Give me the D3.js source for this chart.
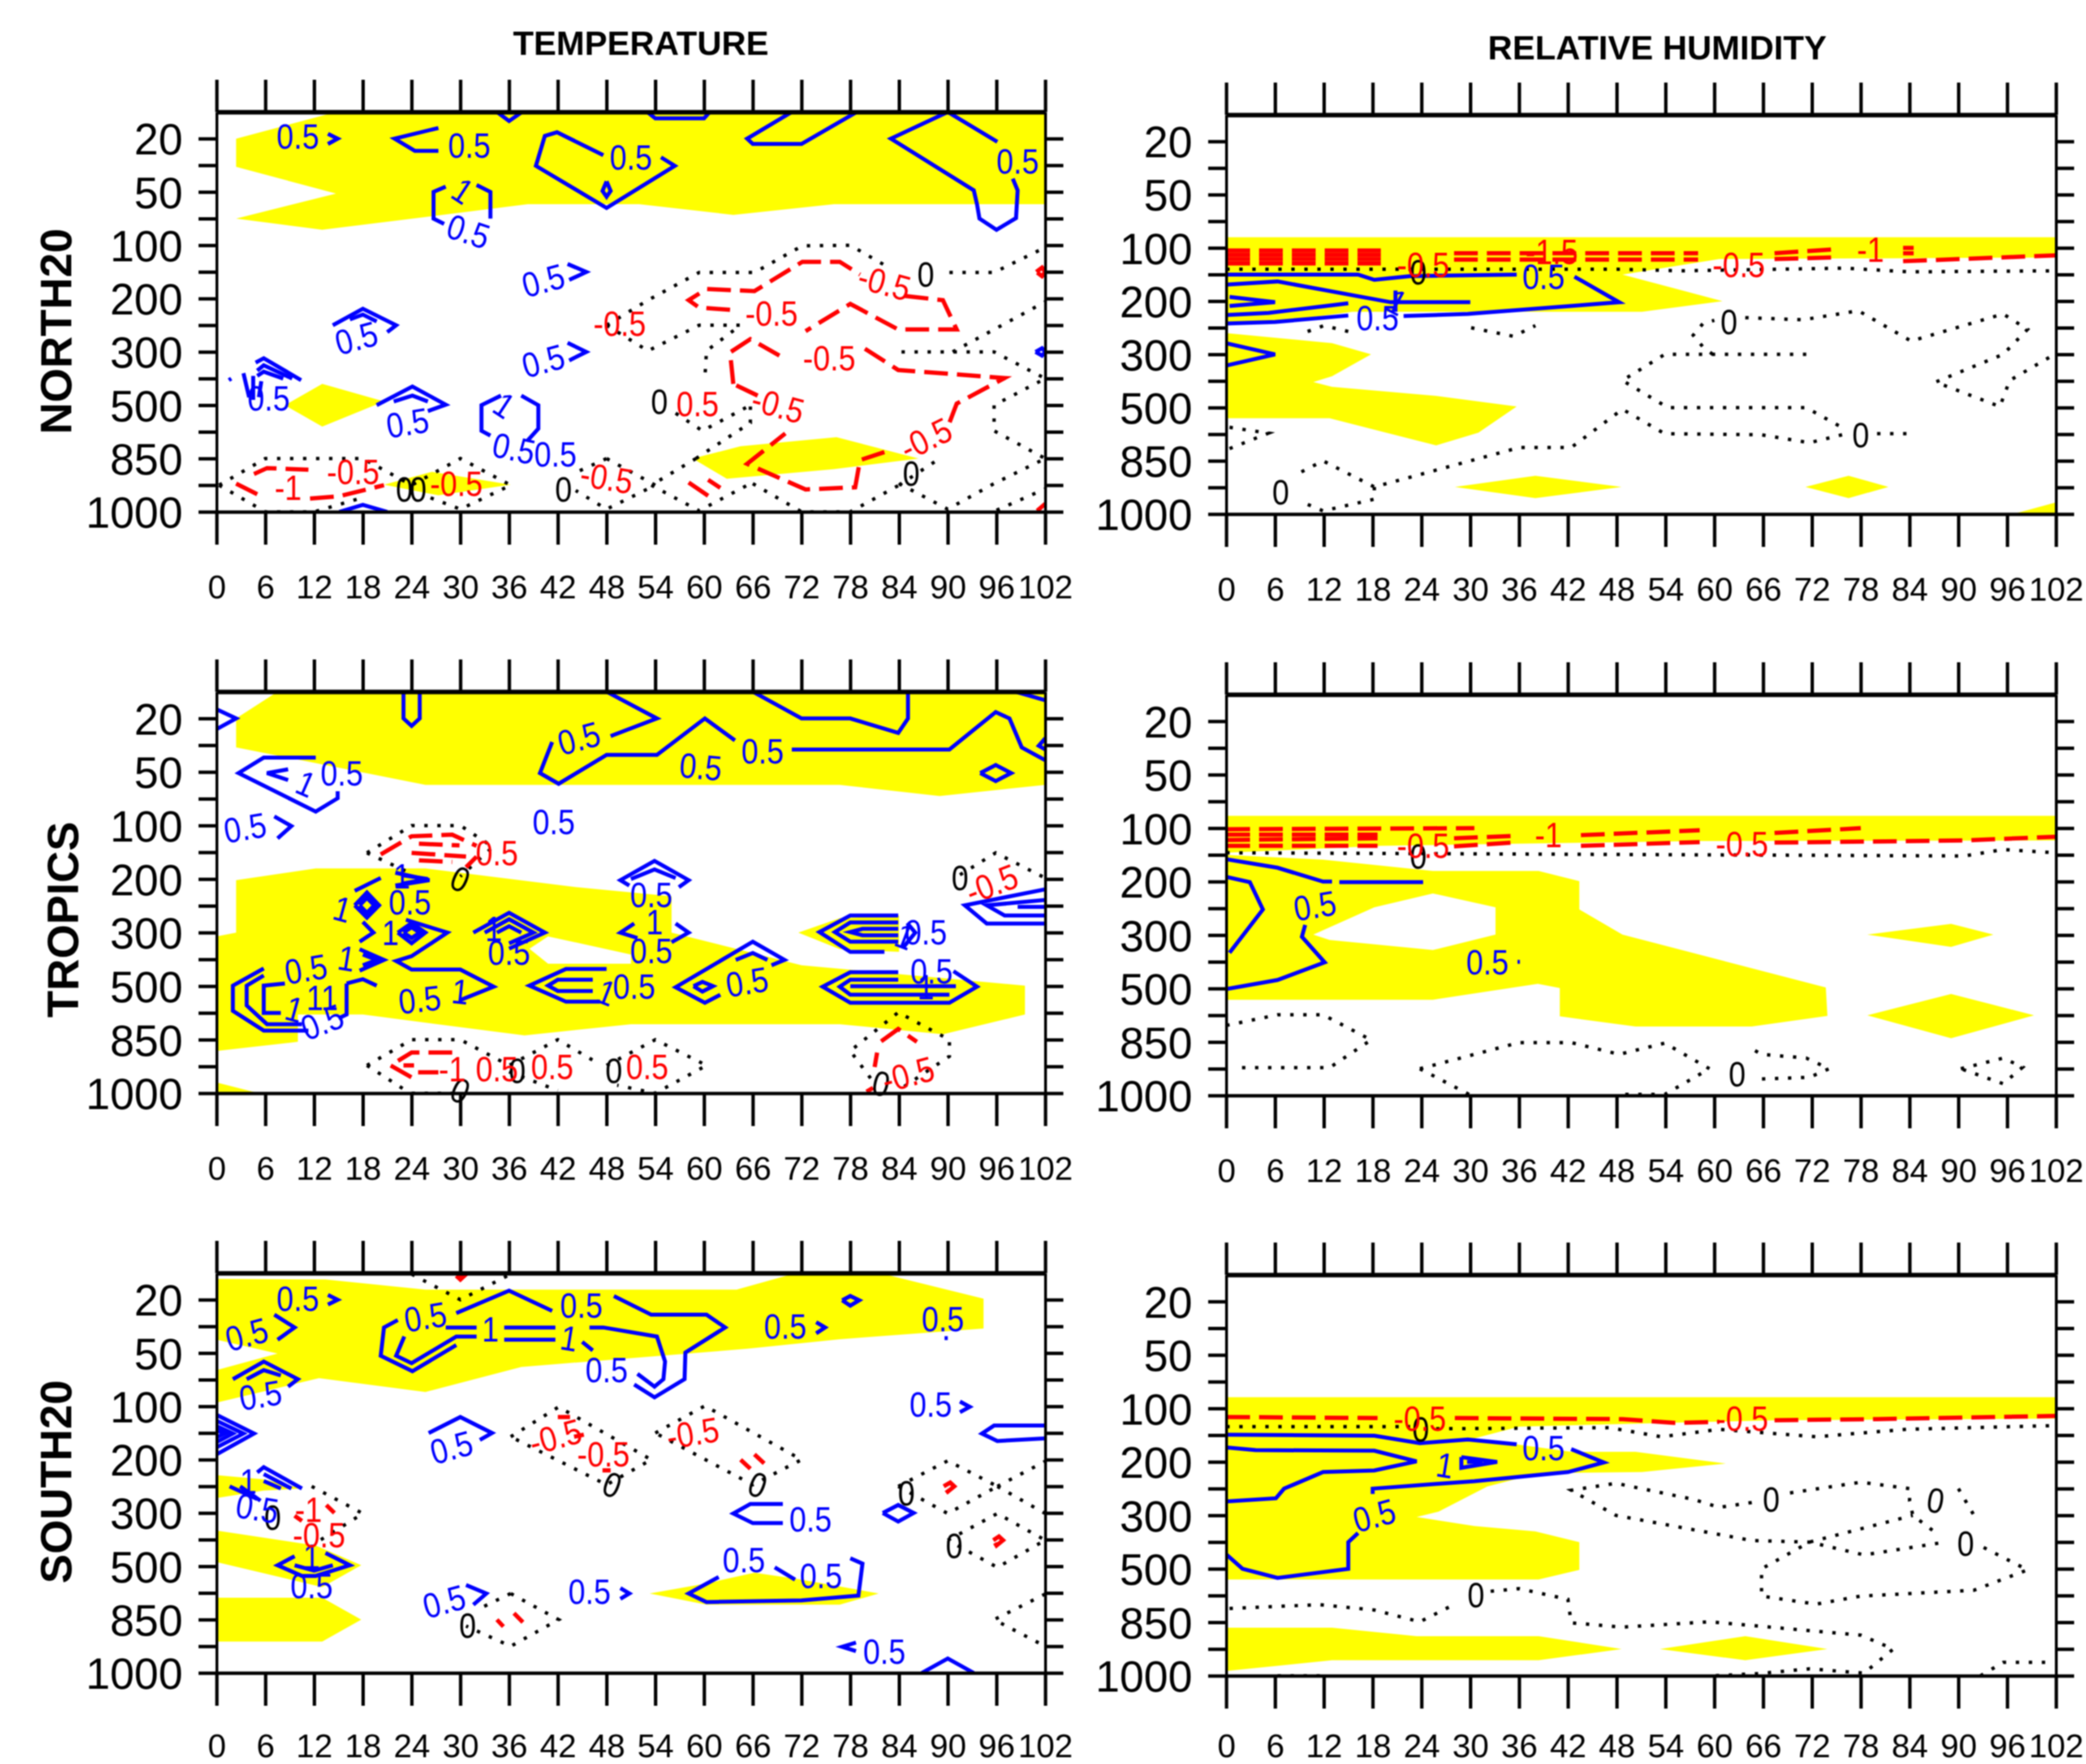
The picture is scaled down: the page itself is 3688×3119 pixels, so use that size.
<!DOCTYPE html>
<html>
<head>
<meta charset="utf-8">
<script src="https://cdn.jsdelivr.net/npm/d3@7"></script>
<style>
  body { margin: 0; background: #fff; }
  text { font-family: "Liberation Sans", Arial, sans-serif; }
</style>
</head>
<body>
<div id="chart"></div>
<script>
// forecast hour on x, pressure level index on y (0 = 20 hPa ... 7 = 1000 hPa)
const hours = d3.range(0, 103, 6);
const levels = [20, 50, 100, 200, 300, 500, 850, 1000];
const columnTitles = ['TEMPERATURE', 'RELATIVE HUMIDITY'];
const rowTitles = ['NORTH20', 'TROPICS', 'SOUTH20'];

// ---- temperature, north
const tnYellow = [
  [[14.7,-.5],[102,-.5],[102,1.23],[76,1.23],[63.6,1.43],[52,1.23],[38.3,1.23],[13,1.71],[2.4,1.5],[14.7,1.03],[2.4,.53],[2.4,0]],
  [[8.4,5],[13,4.6],[20.6,4.93],[13,5.4]],
  [[20.6,6.49],[26.5,6.25],[36.2,6.49],[27.3,6.69]],
  [[58.6,6],[64.5,5.77],[76.3,5.6],[86.4,6],[76,6.2],[62.8,6.38]]
];
const tnBlue = [
  [[34.5,-.5],[36,-.33],[37.6,-.5]],
  [[53,-.5],[54,-.38],[60,-.38],[60.7,-.5]],
  [[70.8,-.5],[65.3,0],[66,.1],[72,.1],[78.8,-.5]],
  [[96.1,.06],[90,-.5],[83,0],[93.2,.97],[93.6,1.23],[93.9,1.5],[96,1.71],[98.4,1.49],[98.6,.97],[98,.75]],
  [[27.3,-.2],[21.9,0],[24.4,.23],[27.3,.23]],
  [[47.6,.31],[41.9,-.12],[40.4,-.05],[39.3,.51],[48,1.3],[56.4,.51],[54.7,.35]],
  [[48,.8],[47.5,.98],[48,1.09],[48.5,.98],[48,.8]],
  [[28.2,.9],[26.7,1],[26.7,1.5],[28,1.6]],
  [[32,.87],[33.7,1],[33.7,1.5]],
  [[13.7,-.09],[14.9,0],[13.7,.1]],
  [[43.2,2.35],[45.5,2.5],[43.4,2.65]],
  [[43.2,3.83],[45.5,4],[43.4,4.16]],
  [[14.3,3.5],[18,3.19],[22.1,3.5],[21,3.63]],
  [[16.4,3.39],[18,3.3],[19.7,3.43]],
  [[10.4,4.53],[5.8,4.12],[4.8,4.2]],
  [[9.3,4.5],[5.8,4.25],[5,4.35]],
  [[8.2,4.5],[5.8,4.37],[5,4.45]],
  [[3.3,4.4],[4,4.85]],
  [[4.5,4.45],[4.5,4.9]],
  [[5.5,4.55],[5.2,4.85]],
  [[1.5,4.53],[1.8,4.5]],
  [[19.7,5],[24.1,4.65],[28.2,4.99],[26,5.11]],
  [[21.8,4.93],[24.1,4.82],[26,4.93]],
  [[35,4.82],[32.6,5],[32.6,5.48],[33.7,5.57]],
  [[37.5,4.82],[39.6,5],[39.6,5.44],[38.3,5.66]],
  [[15.1,7],[18,6.87],[21,7]],
  [[100.8,4],[101.6,3.93],[102,4],[101.6,4.07],[100.8,4]]
];
const tnRed = [
  [[63.2,3.21],[59.4,3.17],[58.1,3.03],[60.3,2.82],[66.2,2.86],[72.1,2.31],[76.7,2.31],[79.2,2.55]],
  [[84.7,2.95],[89.4,3.03],[91.1,3.58],[83.9,3.58],[78,3.1],[72.5,3.61]],
  [[63.6,4.6],[63.2,4.01],[65.7,3.76],[69.5,4.09]],
  [[79.8,3.94],[83.9,4.34],[97,4.49],[91.1,4.97],[90.2,5.33]],
  [[82.2,5.88],[79.2,6.03],[78.6,6.54],[72.5,6.58],[65.3,6.1],[70,5.53]],
  [[66.6,4.82],[63.6,4.6]],
  [[2.4,6.47],[5,6.67]],
  [[4.6,6.29],[6.2,6.18],[11.3,6.21]],
  [[11.5,6.75],[15,6.71],[20.6,6.5]],
  [[58.1,6.45],[60.5,6.7]],
  [[60.5,6.4],[62,6.55]],
  [[100.9,2.5],[101.6,2.42],[102,2.5],[101.6,2.58],[100.9,2.5]],
  [[101,6.98],[102,6.85]]
];
const tnZero = [
  [[48,3.5],[53.1,3.03],[59.4,2.51],[66.2,2.51],[72.1,2.01],[78,2],[82.2,2.37]],
  [[90.2,2.51],[95.7,2.51],[101.6,2.07]],
  [[48,3.5],[53.1,3.98],[59.4,3.5],[64.5,3.5],[60.3,3.98],[60.1,4.49]],
  [[56.5,5.15],[59.8,5.48],[65.7,5]],
  [[90.6,4],[102,3.06]],
  [[84.3,4],[95.7,4],[102,4.5],[95.7,5],[95.7,5.48],[102,6]],
  [[84,6.47],[90,6.95],[95.7,6.47],[102,6]],
  [[96,6.97],[102,6.57]],
  [[84,6.5],[89,6]],
  [[66,6.47],[72,7],[78,7],[84,6.5]],
  [[59,6],[53.5,6.5],[59.4,6.98],[65.7,6.47]],
  [[59,6],[65.7,5.33],[65.7,5]],
  [[48,6],[54,6.5],[48,6.95],[44.2,6.6]],
  [[48,6],[43.8,6.29]],
  [[.3,6.5],[6,6],[18,6],[24,6.5],[30,6],[36.2,6.5],[30,6.95],[25.7,6.7]],
  [[.3,6.5],[6,7],[12,7],[17.6,6.75]]
];
const tnBlueLabels = [
  [10,-.04,'0.5'],[31.1,.13,'0.5'],[51,.35,'0.5'],[98.6,.42,'0.5'],
  [31,1.74,'0.5',6,.3],[30.3,.98,'1',6,.6],[40.2,2.66,'0.5',6,-.25],[40.2,4.17,'0.5',6,-.25],
  [17.2,3.74,'0.5',6,-.25],[6.4,4.87,'0.5'],[23.5,5.33,'0.5',6,-.15],[35.4,5,'1',6,.6],
  [36.6,5.81,'0.5',6,.2],[41.7,5.92,'0.5']
];
const tnRedLabels = [
  [68.3,3.28,'-0.5'],[82.2,2.7,'-0.5',6,.25],[75.4,4.12,'-0.5'],[87.3,5.63,'-0.5',6,-.45],
  [69.1,5,'-0.5',6,.25],[49.6,3.47,'-0.5'],[59.2,4.97,'0.5'],[8.8,6.54,'-1'],[16.8,6.25,'-0.5'],
  [29.5,6.47,'-0.5'],[48,6.36,'-0.5',6,.15]
];
const tnZeroLabels = [
  [87.3,2.55,'0'],[54.5,4.93,'0'],[23.1,6.58,'0'],[24.8,6.58,'0'],[42.7,6.58,'0'],[85.5,6.28,'0']
];

// ---- relative humidity, north
const rnYellow = [
  [[0,1.8],[102,1.8],[102,2.18],[60.6,2.21],[48.7,2.5],[61,3],[51.1,3.2],[15.5,3.2],[7.5,3.36],[0,3.46]],
  [[0,3.6],[13,3.79],[17.8,4],[13,4.41],[10.7,4.52],[13,4.61],[25.8,4.78],[35.7,4.98],[31,5.47],[25.8,5.71],[12.7,5.2],[0,5.2]],
  [[28.1,6.49],[38,6.28],[48.6,6.49],[38,6.7]],
  [[71.2,6.49],[76.5,6.28],[81.4,6.49],[76.5,6.7]],
  [[96.7,7],[102,6.78],[102,7]]
];
const rnBlue = [
  [[0,2.5],[16.2,2.5],[18.2,2.6],[22.6,2.53],[35.7,2.5]],
  [[42.8,2.54],[48.3,3.02],[29.7,3.24],[21.8,3.28]],
  [[15,3.27],[6,3.39],[0,3.42]],
  [[0,2.69],[6.3,2.63],[20.2,3.02],[30,3.02]],
  [[.4,2.92],[6,3.02],[.4,3.09]],
  [[0,3.26],[5.2,3.22],[15,3.04]],
  [[20.8,2.8],[20.8,3.2]],
  [[0,3.79],[6,4],[0,4.21]]
];
const rnRed = [
  [[0,2.05],[19,2.05]],[[0,2.13],[19,2.13]],[[0,2.21],[19,2.21]],[[0,2.29],[19,2.29]],
  [[28,2.1],[58,2.1]],[[28,2.22],[58,2.22]],
  [[67.4,2.1],[74.5,2.03]],[[67.4,2.21],[74.5,2.18]],
  [[83.2,2.25],[102,2.14]],[[83.2,2],[84.5,2]],[[83.2,2.1],[84.5,2.1]]
];
const rnZero = [
  [[0,2.4],[48,2.4],[56,2.43],[60,2.42],[76,2.38],[84,2.45],[102,2.43]],
  [[10,3.57],[12,3.46],[15,3.57]],
  [[30.1,3.5],[35.3,3.66],[38,3.46]],
  [[59.8,4],[58.6,3.86],[57.4,3.64],[58.6,3.42],[60,3.36]],
  [[63.8,3.31],[70.9,3.35],[77.7,3.18],[84.2,3.75],[95.5,3.24],[98.5,3.53],[95.5,4],[87.2,4.52],[95.1,4.98],[96.3,4.49],[101.8,4]],
  [[71.3,4],[53.9,4],[48.7,4.49],[54.3,5],[71.3,5],[76,5.4]],
  [[80,5.49],[84,5.49]],
  [[75.7,5.51],[71.7,5.66],[65.8,5.51],[53.9,5.49],[48.7,5.03],[42.4,5.75],[36,5.75],[18.2,6.49],[11.9,6],[8.3,6.28]],
  [[18.2,6.49],[18.2,6.72],[11.9,6.94],[9.1,6.76]],
  [[.4,5.37],[5.2,5.48],[.4,5.77]]
];
const rnBlueLabels = [[39,2.54,'0.5'],[18.6,3.31,'0.5'],[21,3.02,'1',6,.5]];
const rnRedLabels = [[24.2,2.32,'-0.5'],[40,2.07,'-1.5'],[63,2.32,'-0.5'],[79.2,2.03,'-1']];
const rnZeroLabels = [[23.6,2.45,'0'],[61.8,3.39,'0'],[78,5.51,'0'],[6.7,6.59,'0']];

// ---- temperature, tropics
const ttYellow = [
  [[7.5,-.5],[102,-.5],[102,1.24],[89,1.45],[76.7,1.24],[25.7,1.24],[2.4,.54],[2.4,0]],
  [[2.4,3.02],[12.2,2.8],[25.7,2.8],[44.2,3.15],[56,3.32],[56,4],[72,4.61],[99.5,4.99],[99.5,5.53],[89.4,5.9],[76.7,5.71],[51,5.71],[37.9,5.92],[18,5.53],[10,5.53],[10,6.04],[0,6.21],[0,4.07],[2.4,4]],
  [[71.6,4],[76.7,3.73],[84,3.68],[84,4.36],[76.7,4.31]],
  [[0,6.8],[5.2,7],[0,7]]
];
const ttHoles = [
  [[40.8,4.07],[51,4.41],[51,4.58],[40.8,4.58],[38.5,4.3]]
];
const ttBlue = [
  [[0,-.17],[2.4,0],[0,.2]],
  [[23,-.5],[23,0],[24,.14],[25,0],[25,-.5]],
  [[41.9,-.5],[48,-.5],[54.2,0],[48.5,.33]],
  [[41.3,.44],[39.8,1.02],[42.1,1.22],[48,.68],[54.2,.68],[60.1,0],[63.8,.41]],
  [[66,-.5],[72,0],[78,0],[83.9,.27],[85.1,0],[85.1,-.5]],
  [[70.8,.58],[90.2,.58],[95.9,-.12],[97.6,0],[99.1,.54],[102,.78]],
  [[98.3,-.5],[102,-.34]],
  [[102,.37],[101.2,.51],[102,.58]],
  [[94,1.02],[95.9,.87],[97.8,1.02],[95.9,1.17],[94,1.02]],
  [[12.2,.73],[5.8,.73],[2.7,1.02],[12.2,1.74],[14.9,1.49],[14.9,1.36]],
  [[8.8,.95],[6.2,1.02],[8.8,1.15]],
  [[7.1,1.83],[9.2,2.01],[7.5,2.24]],
  [[22,2.88],[26.2,3.02],[22,3.12]],
  [[23,2.93],[26,3],[23,3.08]],
  [[20.2,2.98],[17,3.22]],
  [[17,3.49],[18.5,3.25],[20,3.49],[18.5,3.72],[17,3.49]],
  [[17.6,3.49],[18.5,3.35],[19.4,3.49],[18.5,3.63],[17.6,3.49]],
  [[18,3.8],[19.3,4],[17.6,4.17]],
  [[23.3,3.76],[28.4,4],[24,4.44],[22.1,4.53],[24,4.69],[30,4.69],[34.1,5.01],[30,5.26]],
  [[22.3,4],[24,3.82],[25.7,4],[24,4.2],[22.3,4]],
  [[23,4],[24,3.9],[25,4],[24,4.1],[23,4]],
  [[31.6,4],[36,3.63],[40.4,4],[36,4.3]],
  [[33,4],[36,3.75],[39,4],[36,4.2]],
  [[34.5,4],[36,3.88],[37.5,4]],
  [[17.6,4.31],[20.6,4.51],[17.6,4.71]],
  [[18,4.41],[19.7,4.51],[18,4.61]],
  [[16,4.95],[18,4.87],[19.7,4.99]],
  [[16,4.95],[16,5.53],[15,5.6]],
  [[5.8,4.67],[2,4.99],[2,5.46],[5.8,5.83],[11.3,5.83]],
  [[5.8,4.8],[3.7,4.99],[3.7,5.36],[6.2,5.71],[10.5,5.71]],
  [[8.4,4.95],[5.8,4.99],[5.8,5.5],[7.9,5.5]],
  [[48,4.68],[43,4.68],[38.5,4.99],[43,5.29],[47.2,5.29]],
  [[46.3,4.88],[42,4.88],[40.8,4.99],[42,5.09],[46.3,5.09]],
  [[68.3,4.61],[69.9,4.51],[66,4.17],[56.5,5.02],[60.1,5.31],[62,5.16]],
  [[58.7,5],[59.8,4.92],[61.1,5],[59.8,5.1],[58.7,5]],
  [[63.9,4.51],[66,4.38],[67.8,4.51]],
  [[50.8,3.12],[49.7,3.02],[53.9,2.66],[58.1,3.02],[56.9,3.15]],
  [[51,3],[53.9,2.82],[56.5,2.98]],
  [[51.4,3.83],[49.7,4],[51.8,4.1]],
  [[56.5,3.83],[58.1,4],[56,4.18]],
  [[83.9,3.68],[78,3.68],[74.2,3.99],[78,4.36],[82.2,4.36]],
  [[83.9,3.81],[78,3.81],[76.1,3.99],[78,4.17],[83.9,4.17]],
  [[83.9,3.93],[79.5,3.93],[78,3.99],[79.5,4.05],[83.9,4.05]],
  [[85,3.82],[86,4],[84.5,4.28]],
  [[83.9,4.74],[78,4.74],[74.6,5.01],[78,5.31],[90.2,5.31],[93.6,5.01],[90.7,4.72]],
  [[83.9,4.88],[78,4.88],[76.7,5.01],[78,5.16],[90.2,5.16]],
  [[78,5],[91,5]],
  [[102,3.19],[92.1,3.49],[94.8,3.83],[102,3.83]],
  [[102,3.39],[94.8,3.49],[97,3.68],[102,3.68]],
  [[102,3.52],[98.6,3.52]]
];
const ttRed = [
  [[20.2,2.54],[24,2.2],[29,2.17],[32,2.38]],
  [[24.9,2.34],[29.9,2.37]],
  [[24,2.51],[30.7,2.58]],
  [[24.9,2.65],[29,2.68]],
  [[32,2.58],[30.7,2.78]],
  [[29,6.24],[24,6.24],[21.4,6.48],[24.9,6.78]],
  [[24.8,6.61],[27.3,6.61]],
  [[23,6.48],[24.3,6.48]],
  [[81.8,6.03],[83.9,5.8],[86.2,6.04]],
  [[81.3,6.24],[81,6.51]],
  [[80,6.97],[80.8,6.9]]
];
const ttZero = [
  [[18.5,2.51],[24,2],[30,2],[34,2.4],[30,2.95]],
  [[18.5,2.51],[24,2.9]],
  [[18.5,6.48],[24,6],[30,6],[36,6.48],[42,6],[46.5,6.4]],
  [[18.5,6.48],[23,6.92]],
  [[24,7],[29,7]],
  [[36,6.6],[42,6.95]],
  [[48,6.48],[54,6],[60.3,6.48],[54,7],[49.3,6.85]],
  [[80.5,6.72],[78,6.21],[83.9,5.49],[90.2,6],[90.2,6.31],[83.9,6.95]],
  [[91.5,2.92],[95.9,2.51],[102,2.98]]
];
const ttBlueLabels = [
  [44.6,.37,'0.5',6,-.25],[67.2,.61,'0.5'],[59.6,.9,'0.5',6,.08],[11,1.22,'1',6,.4],[15.4,1.02,'0.5'],
  [3.5,2.04,'0.5',6,-.15],[41.5,1.93,'0.5'],[22.8,2.95,'1'],[15.5,3.56,'1',6,.25],[23.8,3.43,'0.5'],
  [21.4,4,'1'],[34.1,3.93,'1'],[36,4.37,'0.5'],[11,4.68,'0.5',6,-.15],[16,4.48,'1',6,.15],
  [9.6,5.43,'1',6,.25],[13,5.22,'11'],[13,5.67,'0.5',6,-.35],[25,5.25,'0.5',6,-.1],[30,5.1,'1',6,.1],
  [51.4,5.01,'0.5'],[48,5.12,'1',6,.35],[65.3,4.92,'0.5',6,-.15],[53.5,3.29,'0.5'],[53.9,3.8,'1'],
  [53.5,4.34,'0.5'],[87.3,3.99,'0.5'],[84.7,4.07,'1',6,.35],[88,4.72,'0.5'],[87.3,5.02,'1']
];
const ttRedLabels = [
  [34.5,2.51,'0.5'],[29,6.55,'-1'],[34.5,6.55,'0.5'],[41.3,6.51,'0.5'],[53,6.51,'0.5'],
  [85.1,6.65,'-0.5',6,-.25],[95.4,3.09,'-0.5',6,-.35]
];
const ttZeroLabels = [[30,3,'0',6,.4],[30,6.95,'0',6,.4],[37,6.58,'0'],[48.9,6.58,'0'],[81.8,6.82,'0',6,.2],[91.5,2.98,'0']];

// ---- relative humidity, tropics
const rtYellow = [
  [[0,1.77],[102,1.77],[102,2.23],[58.2,2.24],[19,2.33],[0,2.46]],
  [[0,2.5],[11.9,2.59],[25.4,2.8],[38.4,2.8],[43.4,2.99],[43.4,3.52],[48.7,3.99],[73.7,4.98],[73.9,5.51],[64.6,5.71],[50.3,5.71],[41,5.52],[41,4.99],[38.3,4.91],[25.4,5.21],[0,5.21]],
  [[78.8,3.99],[89.1,3.79],[94.3,3.99],[89.1,4.22]],
  [[78.8,5.5],[89.1,5.1],[99.3,5.5],[89.1,5.93]]
];
const rtHoles = [
  [[10.7,3.99],[18.2,3.48],[25.4,3.22],[33.1,3.48],[33.1,3.99],[25.4,4.28],[12.7,4.09]]
];
const rtBlue = [
  [[0,2.58],[6.3,2.74],[11.9,3],[13,3]],
  [[13.9,3.01],[24.2,3.01]],
  [[0,2.91],[2.9,3.01],[4.5,3.52],[.4,4.33]],
  [[9.7,3.81],[9.3,4.03],[12.1,4.51],[6.3,4.84],[0,5.01]],
  [[35.8,4.5],[36.1,4.5]]
];
const rtRed = [
  [[0,2.02],[30.5,2]],[[0,2.12],[18.6,2.12]],[[0,2.22],[18.6,2.19]],[[0,2.33],[18.6,2.33]],
  [[28,2.19],[36,2.14]],[[28,2.34],[36,2.26]],
  [[43.6,2.13],[58.2,2.04]],[[43.6,2.33],[58.2,2.26]],
  [[67.4,2.09],[78,2]],[[67.4,2.27],[90.7,2.23],[102,2.16]]
];
const rtZero = [
  [[0,2.46],[90.7,2.52],[95.5,2.4],[102,2.46]],
  [[0,5.69],[6.3,5.49],[11.9,5.49],[17.8,5.96],[12.7,6.48],[.8,6.48]],
  [[23.8,6.5],[36,6.01],[42.4,6.01],[48.3,6.23],[53.9,6.02],[59.4,6.5],[53.9,6.98],[48.3,6.98]],
  [[23.8,6.5],[30.1,7]],
  [[65,6.16],[65.8,6.23],[71.3,6.3],[74.1,6.5],[71.7,6.66],[65.8,6.69]],
  [[90.3,6.5],[95.5,6.3],[97.9,6.47],[95.5,6.78],[90.3,6.5]]
];
const rtBlueLabels = [[10.9,3.45,'0.5',6,-.15],[32.1,4.51,'0.5']];
const rtRedLabels = [[24.2,2.33,'-0.5'],[39.6,2.12,'-1'],[63.4,2.29,'-0.5']];
const rtZeroLabels = [[23.6,2.53,'0'],[62.8,6.6,'0']];

// ---- temperature, south
const tsYellow = [
  [[0,-.39],[13.4,-.38],[25.7,-.19],[64,-.19],[70.8,-.48],[82.2,-.48],[94.4,-.02],[94.4,.54],[76.7,.74],[65.3,.92],[37.5,1.26],[25.7,1.73],[12.6,1.47],[0,1.93],[0,1.32],[7.5,1.01],[0,.75]],
  [[0,3.29],[5.8,3.37],[10.5,3.54],[5.8,3.58],[0,3.72]],
  [[0,4.33],[12.2,4.61],[17.8,4.98],[13,5.39],[0,4.92]],
  [[0,5.59],[13,5.59],[17.8,6],[13,6.41],[0,6.41]],
  [[53.3,5.51],[60.3,5.32],[66.2,5.12],[72,5.25],[81.5,5.51],[76.7,5.72],[60.3,5.72]]
];
const tsBlue = [
  [[13.7,-.09],[14.9,0],[13.7,.09]],
  [[7.1,.28],[9.6,.52],[7.5,.75]],
  [[2,1.49],[5.8,1.16],[10,1.49],[8.8,1.63]],
  [[3.7,1.49],[5.8,1.32],[7.9,1.42]],
  [[0,2.16],[4.6,2.51],[0,2.9]],
  [[0,2.27],[3.3,2.51],[0,2.77]],
  [[0,2.37],[2,2.51],[0,2.67]],
  [[0,2.45],[1,2.51],[0,2.58]],
  [[10.5,3.54],[5.8,3.14],[5,3.24]],
  [[9.2,3.54],[5.8,3.27]],
  [[7.9,3.54],[5.8,3.4]],
  [[1.6,3.5],[5,3.74]],
  [[2.9,3.5],[5.4,3.77]],
  [[9.6,4.81],[7.5,4.98],[10.5,5.18],[12.2,5.18],[16.4,4.98],[13.4,4.75]],
  [[9.6,4.98],[12,5.08],[14.3,4.98]],
  [[26.1,2.5],[30,2.2],[33.9,2.5],[32.4,2.63]],
  [[22.3,.38],[20.6,.52],[20.2,1.05],[24.1,1.34],[29.5,.85]],
  [[28.2,.52],[32,.52]],
  [[35.4,.52],[41.7,.52]],
  [[45.9,.52],[47.6,.52],[54.2,.69],[55.2,1.16],[55,1.49],[53.9,1.63],[51.8,1.39]],
  [[23.1,.69],[22.1,1.05],[24,1.19],[29.5,.69],[32,.69]],
  [[35.4,.75],[41.7,.75]],
  [[45,.79],[46.3,.95]],
  [[29.5,.25],[36,-.17],[41.3,.21]],
  [[48.9,-.07],[53.5,.28],[60.3,.28],[62.6,.52],[57.7,.99],[57.6,1.49],[53.9,1.83],[51.4,1.59]],
  [[73.8,.42],[74.9,.52],[73.8,.63]],
  [[89.6,.72],[90,.72]],
  [[77,.01],[78,-.07],[79.1,.01],[78,.11],[77,.01]],
  [[91.5,1.91],[92.7,2.01],[91.5,2.11]],
  [[102,2.36],[95.7,2.36],[94.2,2.51],[96.1,2.65],[102,2.6]],
  [[82,4],[83.9,3.85],[85.8,4],[83.9,4.16],[82,4]],
  [[69.7,3.83],[65.7,3.83],[63.6,4.01],[66,4.19],[69.7,4.19]],
  [[68.7,5.02],[71.2,5.25]],
  [[78,4.85],[79.5,4.95],[79,5.55],[72,5.64],[60.3,5.67],[58.1,5.51],[61.8,5.2]],
  [[49.7,5.41],[50.8,5.51],[49.7,5.61]],
  [[30.7,5.35],[33.2,5.51],[31.6,5.72]],
  [[78.7,6.43],[77,6.51],[78.7,6.59]],
  [[86.8,7],[90,6.73],[93.2,7]]
];
const tsRed = [
  [[29.5,-.45],[30,-.38],[30.5,-.45],[29.5,-.45]],
  [[42,2.2],[43.5,2.2]],
  [[44,2.57],[45.2,2.53]],
  [[47.5,3.2],[48.5,3.2]],
  [[64.5,3],[65.7,3.17]],
  [[66.2,2.9],[67.4,3.07]],
  [[9.6,4.05],[10.5,4.15]],
  [[13.5,3.85],[14.5,4]],
  [[89.5,3.5],[90.3,3.43],[90.8,3.5],[90,3.6],[89.5,3.5]],
  [[95.6,4.51],[96.3,4.44],[96.8,4.51],[96,4.61],[95.6,4.51]],
  [[34.5,6],[35.3,6.13]],
  [[36.6,5.88],[37.7,6.05]]
];
const tsZero = [
  [[24,-.48],[30,0],[36.2,-.48]],
  [[36.2,2.57],[42.1,2.01],[53.5,3],[48,3.47],[36.2,2.57]],
  [[54,2.5],[60.1,1.99],[72,3],[66,3.47],[54,2.5]],
  [[11.7,3.5],[18,4.01],[12,4.58]],
  [[83.9,3.5],[90,3.02],[96.1,3.5],[90,4.01],[83.9,3.5]],
  [[96.1,3.5],[102,3.03]],
  [[96.1,3.5],[102,4.01]],
  [[90,4.51],[96.1,4.01],[102,4.51],[96.1,5.02],[90,4.51]],
  [[36.2,5.51],[42.1,6],[36.2,6.5],[30.7,6.12]],
  [[36.2,5.51],[32.4,5.79]],
  [[102,5.52],[95.7,6],[102,6.5]]
];
const tsBlueLabels = [
  [10,-.02,'0.5'],[3.7,.65,'0.5',6,-.25],[5.4,1.79,'0.5',6,-.15],[3.9,3.41,'1'],[5,3.91,'0.5',6,.15],
  [11.7,4.82,'1'],[11.7,5.37,'0.5'],[28.9,2.77,'0.5',6,-.25],[25.7,.32,'0.5',6,-.15],[33.7,.55,'1'],
  [43.4,.72,'1',6,.15],[44.9,.11,'0.5'],[48,1.32,'0.5'],[70,.5,'0.5'],[89.4,.36,'0.5'],[87.9,1.96,'0.5'],
  [73.1,4.12,'0.5'],[64.9,4.88,'0.5'],[74.4,5.18,'0.5'],[45.9,5.47,'0.5'],[28,5.66,'0.5',6,-.25],[82.2,6.6,'0.5']
];
const tsRedLabels = [
  [41.7,2.57,'-0.5',6,-.25],[47.6,2.9,'-0.5'],[58.6,2.5,'-0.5',6,-.15],[12.6,4.41,'-0.5'],[11.3,3.94,'-1']
];
const tsZeroLabels = [
  [48.7,3.47,'0',6,.35],[66.6,3.47,'0',6,.35],[6.9,4.08,'0'],[84.9,3.63,'0'],[90.8,4.61,'0'],[30.9,6.11,'0']
];

// ---- relative humidity, south
const rsYellow = [
  [[0,1.79],[102,1.79],[102,2.19],[67.4,2.22],[36,2.34],[30.5,2.56],[36,2.68],[42.4,2.81],[50.3,2.81],[61.4,3.03],[51.1,3.19],[38.4,3.21],[32.1,3.46],[26.1,3.93],[23.4,4.03],[30.5,4.2],[38,4.3],[43.4,4.5],[43.4,5.02],[38.4,5.2],[0,5.2]],
  [[0,6.1],[13,6.1],[23.4,6.26],[38.4,6.26],[48.6,6.5],[38.4,6.71],[13,6.71],[0,6.91]],
  [[53.3,6.5],[63.8,6.26],[73.9,6.5],[63.8,6.71]]
];
const rsBlue = [
  [[0,2.49],[18.2,2.51],[23.8,2.65],[29.7,2.58],[35.7,2.67]],
  [[42.4,2.76],[46.4,3.01],[42,3.19],[30.5,3.36],[18,3.5],[18,3.6]],
  [[0,2.73],[3.6,2.78],[18.2,2.79],[23.4,2.99],[18.2,3.16],[11.9,3.19],[7.1,3.5],[6.1,3.68],[0,3.74]],
  [[28.9,2.91],[33.3,3],[28.9,3.11],[28.9,2.91]],
  [[29.6,3],[31.5,3]],
  [[16.2,4.33],[15,4.5],[15,5],[6.3,5.17],[2,5],[0,4.73]]
];
const rsRed = [
  [[0,2.16],[18.6,2.18]],
  [[28.1,2.18],[48.7,2.2],[55,2.27],[60.6,2.25]],
  [[67.4,2.22],[80,2.2],[102,2.14]]
];
const rsZero = [
  [[0,2.34],[22.6,2.34]],
  [[25.8,2.38],[47.1,2.36],[53.5,2.53],[60.6,2.39],[72.5,2.53],[83.6,2.39],[102,2.32]],
  [[64.6,3.76],[60.6,3.85],[57.4,3.7],[47.9,3.4],[42.4,3.53],[47.9,4],[64.6,4.47],[71.7,4.5],[78.4,4.74],[88.4,4.5]],
  [[69.3,3.58],[78,3.38],[84,3.5],[84,3.73],[84.4,4],[87.6,4.37]],
  [[93.1,4.6],[98.5,5.02],[91.9,5.4],[78,5.51],[72.5,5.66],[65.8,5.51],[65.8,5],[71.7,4.5],[84.4,4]],
  [[90,3.5],[92.3,4.1]],
  [[.4,5.74],[11.5,5.67],[18.2,5.77],[23.8,5.99],[28.1,5.66]],
  [[32.5,5.42],[36,5.37],[42,5.57],[42.4,6.01],[48.7,6.09],[59.4,5.99],[78,6.24],[82,6.5],[78.4,6.95],[71.7,6.87],[65.4,6.96],[59.8,7]],
  [[6.3,7],[11.5,7]],
  [[92.7,7],[95.5,6.75],[101.4,6.75]]
];
const rsBlueLabels = [[39,2.74,'0.5'],[26.9,3.06,'1',6,.15],[18.2,4,'0.5',6,-.25]];
const rsRedLabels = [[23.8,2.19,'-0.5'],[63.4,2.19,'-0.5']];
const rsZeroLabels = [[23.9,2.39,'0'],[67,3.7,'0'],[90.9,4.53,'0'],[87.2,3.72,'0',6,.15],[30.7,5.49,'0']];

const fields = [
  [
    { yellow: tnYellow, blue: tnBlue, red: tnRed, zero: tnZero, blueLabels: tnBlueLabels, redLabels: tnRedLabels, zeroLabels: tnZeroLabels },
    { yellow: rnYellow, blue: rnBlue, red: rnRed, zero: rnZero, blueLabels: rnBlueLabels, redLabels: rnRedLabels, zeroLabels: rnZeroLabels }
  ],
  [
    { yellow: ttYellow, holes: ttHoles, blue: ttBlue, red: ttRed, zero: ttZero, blueLabels: ttBlueLabels, redLabels: ttRedLabels, zeroLabels: ttZeroLabels },
    { yellow: rtYellow, holes: rtHoles, blue: rtBlue, red: rtRed, zero: rtZero, blueLabels: rtBlueLabels, redLabels: rtRedLabels, zeroLabels: rtZeroLabels }
  ],
  [
    { yellow: tsYellow, blue: tsBlue, red: tsRed, zero: tsZero, blueLabels: tsBlueLabels, redLabels: tsRedLabels, zeroLabels: tsZeroLabels },
    { yellow: rsYellow, blue: rsBlue, red: rsRed, zero: rsZero, blueLabels: rsBlueLabels, redLabels: rsRedLabels, zeroLabels: rsZeroLabels }
  ]
];

// ---- layout, in page pixels
const columnX = [[383, 1848], [2168, 3635]];
const rowY = [
  [[198, 905], [203, 909]],
  [[1223, 1933], [1228, 1937]],
  [[2251, 2958], [2254, 2963]]
];
// bottom row sits close to the page edge, so its numbers move up a little
const labelPad = [[54, 54], [54, 54], [50, 45]];

const svg = d3.select('#chart').append('svg')
  .attr('width', 3688)
  .attr('height', 3119)
  .style('display', 'block')
  .style('filter', 'blur(1.1px)');

const drawPanel = (field, xRange, yRange, pad, id) => {
  const x = d3.scaleLinear().domain([0, 102]).range(xRange);
  const y = d3.scaleLinear().domain([-0.5, 7]).range(yRange);
  const line = d3.line().x(d => x(d[0])).y(d => y(d[1]));
  const g = svg.append('g');

  svg.append('clipPath').attr('id', id).append('rect')
    .attr('x', xRange[0]).attr('y', yRange[0])
    .attr('width', xRange[1] - xRange[0]).attr('height', yRange[1] - yRange[0]);

  const plot = g.append('g').attr('clip-path', `url(#${id})`);

  plot.selectAll('.shade').data(field.yellow).enter().append('path')
    .attr('class', 'shade').attr('d', d => line(d) + 'Z').attr('fill', '#ffff00');
  plot.selectAll('.hole').data(field.holes || []).enter().append('path')
    .attr('class', 'hole').attr('d', d => line(d) + 'Z').attr('fill', '#fff');

  const contours = (rows, color, width, dash) => {
    plot.append('g').selectAll('path').data(rows).enter().append('path')
      .attr('d', line)
      .attr('fill', 'none')
      .attr('stroke', color)
      .attr('stroke-width', width)
      .attr('stroke-dasharray', dash)
      .attr('stroke-linejoin', 'miter');
  };
  contours(field.zero, '#000', 6, '6 17');
  contours(field.blue, '#0000ff', 7, null);
  contours(field.red, '#ff0000', 7.5, '42 16');

  // the optional last two fields give the direction the contour runs at the label
  const labels = (rows, color) => {
    g.append('g').selectAll('text').data(rows).enter().append('text')
      .attr('transform', d => {
        const angle = d.length > 3
          ? Math.atan2(y(d[4]) - y(0), x(d[3]) - x(0)) * 180 / Math.PI
          : 0;
        return `translate(${x(d[0])},${y(d[1])}) rotate(${angle}) scale(1,1.15)`;
      })
      .attr('text-anchor', 'middle')
      .attr('dominant-baseline', 'central')
      .attr('font-size', 54)
      .attr('fill', color)
      .text(d => d[2]);
  };
  labels(field.zeroLabels, '#000');
  labels(field.blueLabels, '#0000ff');
  labels(field.redLabels, '#ff0000');

  // axes, ticks on all four sides, numbers on left and bottom only
  const levelTicks = d3.range(0, 7.5, 0.5);
  const styleAxis = (a, width) => {
    a.selectAll('path').attr('stroke', '#000').attr('stroke-width', width);
    a.selectAll('line').attr('stroke', '#000').attr('stroke-width', 6);
  };

  const bottom = g.append('g').attr('transform', `translate(0,${yRange[1]})`)
    .call(d3.axisBottom(x).tickValues(hours).tickFormat(d3.format('d')).tickSize(58).tickPadding(pad).tickSizeOuter(0));
  styleAxis(bottom, 6);
  bottom.selectAll('text').attr('font-size', 58).attr('fill', '#000');

  const top = g.append('g').attr('transform', `translate(0,${yRange[0]})`)
    .call(d3.axisTop(x).tickValues(hours).tickFormat('').tickSize(57).tickSizeOuter(0));
  styleAxis(top, 8);

  const left = g.append('g').attr('transform', `translate(${xRange[0]},0)`)
    .call(d3.axisLeft(y).tickValues(levelTicks).tickFormat(d => levels[d] === undefined ? '' : levels[d]).tickSize(32).tickPadding(28).tickSizeOuter(0));
  styleAxis(left, 5);
  left.selectAll('text').attr('font-size', 77).attr('dy', '.36em').attr('fill', '#000');

  const right = g.append('g').attr('transform', `translate(${xRange[1]},0)`)
    .call(d3.axisRight(y).tickValues(levelTicks).tickFormat('').tickSize(32).tickSizeOuter(0));
  styleAxis(right, 5);
};

fields.forEach((row, r) => {
  row.forEach((field, c) => drawPanel(field, columnX[c], rowY[r][c], labelPad[r][c], `plot-${r}-${c}`));
});

// titles
const titleX = [1133, 2930];
const titleY = [76, 84];
svg.selectAll('.column-title').data(columnTitles).enter().append('text')
  .attr('class', 'column-title')
  .attr('x', (d, i) => titleX[i]).attr('y', (d, i) => titleY[i])
  .attr('text-anchor', 'middle').attr('dominant-baseline', 'central')
  .attr('font-size', 60).attr('font-weight', 'bold')
  .text(d => d);

const rowLabelX = [99, 111, 99];
const rowLabelY = [586, 1626, 2620];
svg.selectAll('.row-title').data(rowTitles).enter().append('text')
  .attr('class', 'row-title')
  .attr('transform', (d, i) => `translate(${rowLabelX[i]},${rowLabelY[i]}) rotate(-90)`)
  .attr('text-anchor', 'middle').attr('dominant-baseline', 'central')
  .attr('font-size', 78).attr('font-weight', 'bold')
  .text(d => d);
</script>
</body>
</html>
